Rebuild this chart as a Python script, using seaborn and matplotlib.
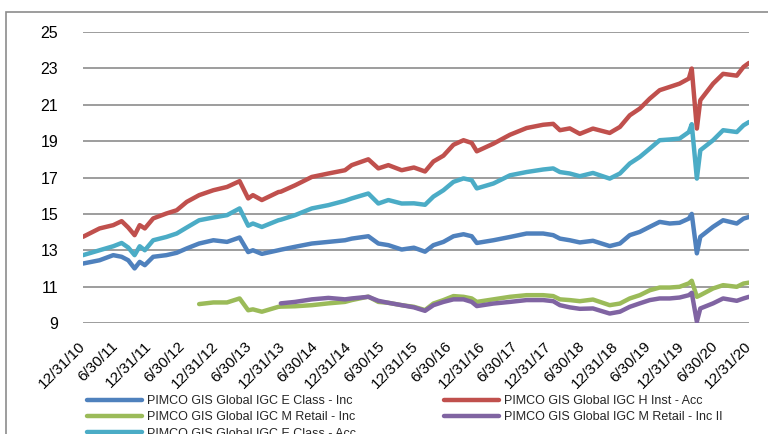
import matplotlib
matplotlib.use("Agg")
import matplotlib.pyplot as plt
import numpy as np
import pandas as pd
import seaborn as sns

# values (NaN = fund not launched yet)
dates = [
    "2010-12-31", "2011-04-01", "2011-06-15", "2011-07-31", "2011-09-05",
    "2011-10-10", "2011-11-07", "2011-12-05", "2012-01-20", "2012-04-01",
    "2012-05-28", "2012-07-22", "2012-09-28", "2012-12-15", "2013-02-28",
    "2013-05-08", "2013-06-24", "2013-07-20", "2013-09-07", "2013-12-07",
    "2013-12-20", "2014-03-08", "2014-06-08", "2014-09-07", "2014-12-07",
    "2015-01-13", "2015-04-14", "2015-06-08", "2015-08-02", "2015-10-14",
    "2015-12-20", "2016-02-19", "2016-04-05", "2016-05-30", "2016-07-24",
    "2016-09-17", "2016-11-01", "2016-11-29", "2017-02-28", "2017-05-30",
    "2017-08-29", "2017-11-28", "2018-01-22", "2018-02-28", "2018-04-23",
    "2018-06-17", "2018-08-28", "2018-11-28", "2019-01-23", "2019-03-18",
    "2019-05-12", "2019-07-06", "2019-08-29", "2019-10-23", "2019-12-16",
    "2020-02-05", "2020-02-21", "2020-03-20", "2020-04-08", "2020-06-17",
    "2020-08-11", "2020-10-25", "2020-12-01", "2020-12-31",
]

e_class_inc = [
    12.27, 12.45, 12.73, 12.64, 12.45, 12.00, 12.36, 12.18, 12.64, 12.73,
    12.86, 13.10, 13.37, 13.55, 13.46, 13.70, 12.90, 13.00, 12.80, 13.00,
    13.03, 13.19, 13.37, 13.46, 13.55, 13.64, 13.77, 13.37, 13.28, 13.04,
    13.14, 12.92, 13.28, 13.46, 13.77, 13.88, 13.77, 13.40, 13.55, 13.73,
    13.92, 13.92, 13.83, 13.64, 13.55, 13.43, 13.52, 13.23, 13.37, 13.83,
    14.01, 14.29, 14.56, 14.47, 14.51, 14.74, 15.00, 12.83, 13.74, 14.29,
    14.65, 14.47, 14.74, 14.83,
]

h_inst_acc = [
    13.74, 14.20, 14.38, 14.60, 14.25, 13.83, 14.38, 14.20, 14.75, 15.02,
    15.20, 15.66, 16.03, 16.30, 16.48, 16.80, 15.85, 16.03, 15.76, 16.20,
    16.22, 16.57, 17.03, 17.22, 17.40, 17.68, 18.00, 17.50, 17.68, 17.40,
    17.55, 17.33, 17.88, 18.20, 18.80, 19.05, 18.90, 18.44, 18.86, 19.35,
    19.72, 19.90, 19.95, 19.60, 19.70, 19.40, 19.69, 19.45, 19.78, 20.42,
    20.79, 21.34, 21.80, 21.98, 22.16, 22.44, 22.99, 19.69, 21.25, 22.16,
    22.70, 22.60, 23.08, 23.30,
]

m_retail_inc = [
    np.nan, np.nan, np.nan, np.nan, np.nan, np.nan, np.nan, np.nan, np.nan, np.nan,
    np.nan, np.nan, 10.04, 10.13, 10.13, 10.35, 9.70, 9.75, 9.62, 9.89,
    9.90, 9.92, 9.98, 10.08, 10.16, 10.26, 10.45, 10.16, 10.11, 9.98,
    9.89, 9.71, 10.07, 10.26, 10.48, 10.44, 10.35, 10.16, 10.30, 10.44,
    10.53, 10.53, 10.48, 10.30, 10.26, 10.20, 10.29, 9.98, 10.07, 10.35,
    10.53, 10.80, 10.95, 10.95, 10.99, 11.18, 11.32, 10.44, 10.53, 10.90,
    11.08, 10.99, 11.17, 11.22,
]

m_retail_inc_ii = [
    np.nan, np.nan, np.nan, np.nan, np.nan, np.nan, np.nan, np.nan, np.nan, np.nan,
    np.nan, np.nan, np.nan, np.nan, np.nan, np.nan, np.nan, np.nan, np.nan, np.nan,
    10.08, 10.16, 10.30, 10.38, 10.30, 10.35, 10.44, 10.22, 10.11, 9.98,
    9.86, 9.67, 9.98, 10.16, 10.30, 10.30, 10.16, 9.93, 10.07, 10.16,
    10.26, 10.26, 10.20, 9.98, 9.86, 9.78, 9.80, 9.52, 9.62, 9.89,
    10.08, 10.26, 10.35, 10.35, 10.40, 10.53, 10.66, 9.07, 9.80, 10.08,
    10.35, 10.22, 10.35, 10.44,
]

e_class_acc = [
    12.73, 13.00, 13.22, 13.40, 13.15, 12.73, 13.22, 13.00, 13.55, 13.73,
    13.92, 14.25, 14.65, 14.80, 14.93, 15.30, 14.35, 14.47, 14.28, 14.65,
    14.68, 14.93, 15.30, 15.48, 15.72, 15.85, 16.12, 15.57, 15.76, 15.57,
    15.58, 15.50, 15.95, 16.30, 16.76, 16.95, 16.85, 16.40, 16.67, 17.12,
    17.30, 17.44, 17.50, 17.30, 17.22, 17.07, 17.25, 16.94, 17.22, 17.77,
    18.13, 18.59, 19.05, 19.09, 19.14, 19.50, 19.93, 16.94, 18.50, 19.05,
    19.60, 19.50, 19.87, 20.05,
]

funds = [
    "PIMCO GIS Global IGC E Class - Inc",
    "PIMCO GIS Global IGC H Inst - Acc",
    "PIMCO GIS Global IGC M Retail - Inc",
    "PIMCO GIS Global IGC M Retail - Inc II",
    "PIMCO GIS Global IGC E Class - Acc",
]
colors = ["#4F81BD", "#C0504D", "#9BBB59", "#8064A2", "#4BACC6"]

tick_dates = pd.date_range("2010-12-31", "2020-12-31", freq="6ME")
tick_labels = [f"{d.month}/{d.day}/{d.strftime('%y')}" for d in tick_dates]

df = pd.DataFrame({
    "date": pd.to_datetime(dates),
    funds[0]: e_class_inc,
    funds[1]: h_inst_acc,
    funds[2]: m_retail_inc,
    funds[3]: m_retail_inc_ii,
    funds[4]: e_class_acc,
})
long = df.melt(id_vars="date", var_name="fund", value_name="nav").dropna()

sns.set_style("white")
plt.rcParams["font.family"] = ["Liberation Sans", "DejaVu Sans"]

fig = plt.figure(figsize=(7.68, 4.34), dpi=100)
ax = fig.add_axes([83 / 768, 1 - 323 / 434, 666 / 768, 291 / 434])

sns.lineplot(data=long, x="date", y="nav", hue="fund", hue_order=funds,
             palette=colors, linewidth=3.2, estimator=None, legend=False,
             ax=ax, zorder=3)

ax.set_ylim(9, 25)
ax.set_yticks(np.arange(9, 26, 2))
ax.set_xlim(tick_dates[0], tick_dates[-1])
ax.set_xticks(tick_dates)
ax.set_xticklabels(tick_labels, rotation=45, ha="right", va="center",
                   rotation_mode="anchor")
ax.tick_params(axis="both", length=0, colors="black")
ax.tick_params(axis="x", pad=15, labelsize=11)
ax.tick_params(axis="y", pad=18, labelsize=11.5)
ax.grid(axis="y", color="#8c8c8c", linewidth=1.2)
ax.grid(axis="x", visible=False)
for s in ax.spines.values():
    s.set_visible(False)
ax.set_xlabel("")
ax.set_ylabel("")

# chart area border (the picture is cropped on the right and bottom)
fig.add_artist(plt.Rectangle((6 / 768, -0.2), 1.2, 1.2 - 12 / 434,
                             transform=fig.transFigure, fill=False,
                             edgecolor="#8c8c8c", linewidth=1.2))

lines = ax.get_lines()
order = [0, 2, 4, 1, 3]
handles = [lines[i] for i in order]
labels = [funds[i] for i in order]
fig.legend(handles, labels, loc="upper left", ncol=2, frameon=False,
           bbox_to_anchor=(87 / 768, 1 - 395 / 434), borderpad=0,
           borderaxespad=0, fontsize=9, handlelength=4.4, handletextpad=0.4,
           columnspacing=7, labelspacing=0.35)

fig.savefig("out.png", dpi=100)
